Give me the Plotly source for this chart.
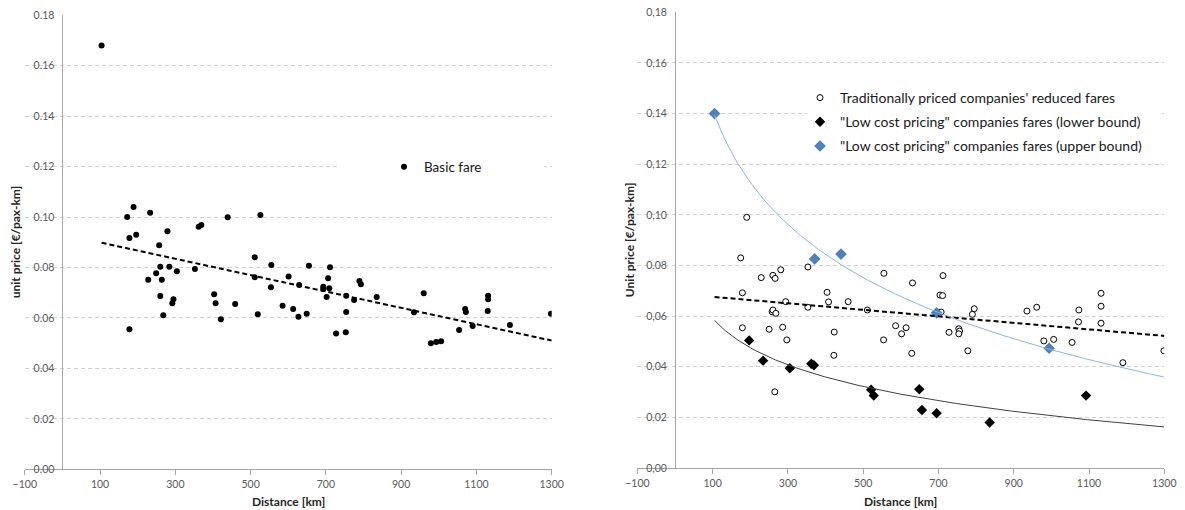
import numpy as np
import plotly.graph_objects as go

# ---------------- data ----------------
# Left chart: basic fares
basic_x = [104, 172, 189, 233, 178, 196, 257, 279, 362, 369, 439, 526, 511,
           178, 228, 249, 260, 264, 260, 268, 284, 292, 295, 304, 352, 403, 407, 421,
           459, 511, 519, 555, 554, 585, 601, 613, 627, 629,
           655, 711, 649, 693, 693, 706, 709, 702, 727, 753, 754, 754, 775, 789, 793,
           835, 934, 960, 979, 993, 1006, 1054, 1070, 1072, 1090, 1131, 1131, 1130,
           1189, 1298]
basic_y = [0.168, 0.100, 0.104, 0.1017, 0.0917, 0.093, 0.0888, 0.0944, 0.0962, 0.0969, 0.0999, 0.1008, 0.0841,
           0.0555, 0.0752, 0.0777, 0.0803, 0.0752, 0.0687, 0.0611, 0.0803, 0.0658, 0.0674, 0.0785, 0.0794, 0.0694, 0.0658, 0.0595,
           0.0655, 0.0761, 0.0615, 0.0810, 0.0722, 0.0648, 0.0764, 0.0636, 0.0605, 0.0731,
           0.0807, 0.0801, 0.0617, 0.0724, 0.0715, 0.0757, 0.0718, 0.0683, 0.0538, 0.0543, 0.0688, 0.0624, 0.0671, 0.0747, 0.0734,
           0.0683, 0.0623, 0.0698, 0.0500, 0.0505, 0.0508, 0.0552, 0.0636, 0.0624, 0.0568, 0.0688, 0.0674, 0.0628,
           0.0572, 0.0617]

# Right chart
trad_x = [190.5, 174.5, 179, 179, 229, 250, 260, 266, 258, 260, 268, 265, 281, 286, 294, 297,
          353, 353, 404, 408, 423, 422, 460, 511, 555, 554, 586, 614, 602, 631, 629,
          704, 711, 712, 707, 728, 754, 756, 754, 778, 790, 795, 935, 961, 980, 1006,
          1055, 1073, 1072, 1132, 1132, 1132, 1190, 1299]
trad_y = [0.099, 0.083, 0.0692, 0.0554, 0.0752, 0.0548, 0.0761, 0.0749, 0.0617, 0.0624, 0.0611, 0.0301, 0.0783, 0.0556, 0.0657, 0.0506,
          0.0794, 0.0635, 0.0694, 0.0656, 0.0537, 0.0445, 0.0657, 0.0624, 0.0769, 0.0506, 0.0562, 0.0554, 0.053, 0.0731, 0.0453,
          0.0683, 0.0681, 0.076, 0.0616, 0.0536, 0.055, 0.0541, 0.053, 0.0463, 0.0607, 0.0629, 0.062, 0.0635, 0.0502, 0.0508,
          0.0496, 0.0624, 0.0577, 0.069, 0.0639, 0.0572, 0.0416, 0.0463]

low_x = [197, 234, 305, 362, 369, 521, 528, 649, 656, 695, 836, 1092]
low_y = [0.0504, 0.0424, 0.0394, 0.0412, 0.0406, 0.0309, 0.0286, 0.0311, 0.0229, 0.0216, 0.018, 0.0286]

up_x = [105, 371, 441, 695, 994]
up_y = [0.140, 0.0826, 0.0845, 0.0613, 0.0473]

# trendline x-span (forecast to axis end)
left_trend_span = [104, 1300]
right_trend_span = [105, 1300]

x_ticks = [-100, 100, 300, 500, 700, 900, 1100, 1300]
y_ticks = [0.00, 0.02, 0.04, 0.06, 0.08, 0.10, 0.12, 0.14, 0.16, 0.18]
left_y_labels = ["0.00", "0.02", "0.04", "0.06", "0.08", "0.10", "0.12", "0.14", "0.16", "0.18"]
right_y_labels = ["0,00", "0,02", "0,04", "0,06", "0,08", "0,10", "0,12", "0,14", "0,16", "0,18"]

legend_left = "Basic fare"
legend_trad = "Traditionally priced companies' reduced fares"
legend_low = "\"Low cost pricing\" companies fares (lower bound)"
legend_up = "\"Low cost pricing\" companies fares (upper bound)"

# ---------------- trendlines (least squares like Excel) ----------------
def linear_fit(x, y, span):
    m, c = np.polyfit(np.asarray(x, float), np.asarray(y, float), 1)
    xs = np.linspace(span[0], span[1], 120)
    return xs, m * xs + c

def log_fit(x, y, span):
    m, c = np.polyfit(np.log(np.asarray(x, float)), np.asarray(y, float), 1)
    xs = np.linspace(span[0], span[1], 200)
    return xs, m * np.log(xs) + c

W, H = 1185, 510
FONT = "Lato"
AX = "#a6a6a6"
GRID = "#d0d0d0"
TICKC = "#595959"

def px_x(p):
    return p / W

def px_y(p):
    return (H - p) / H

# plot-area pixel bounds
L_x0, L_x1, L_ytop, L_ybot = 24.8, 551.7, 15.3, 469.3
R_x0, R_x1, R_ytop, R_ybot = 637.4, 1164.3, 12.3, 468.0

fig = go.Figure()

# left
fig.add_trace(go.Scatter(x=basic_x, y=basic_y, mode="markers", name=legend_left,
                         marker=dict(symbol="circle", size=6, color="black"),
                         xaxis="x", yaxis="y", legend="legend"))
tx, ty = linear_fit(basic_x, basic_y, left_trend_span)
fig.add_trace(go.Scatter(x=tx, y=ty, mode="lines", showlegend=False,
                         line=dict(color="black", width=2, dash="5px,3px"),
                         xaxis="x", yaxis="y", hoverinfo="skip"))

# right
fig.add_trace(go.Scatter(x=trad_x, y=trad_y, mode="markers", name=legend_trad,
                         marker=dict(symbol="circle", size=6, color="white",
                                     line=dict(color="black", width=1)),
                         xaxis="x2", yaxis="y2", legend="legend2", legendgroup="a"))
fig.add_trace(go.Scatter(x=low_x, y=low_y, mode="markers", name=legend_low,
                         marker=dict(symbol="diamond", size=8, color="black"),
                         xaxis="x2", yaxis="y2", legend="legend2", legendgroup="b"))
fig.add_trace(go.Scatter(x=up_x, y=up_y, mode="markers", name=legend_up,
                         marker=dict(symbol="diamond", size=9, color="#4F81BD"),
                         xaxis="x2", yaxis="y2", legend="legend2", legendgroup="c"))
tx, ty = linear_fit(trad_x, trad_y, right_trend_span)
fig.add_trace(go.Scatter(x=tx, y=ty, mode="lines", showlegend=False,
                         line=dict(color="black", width=2, dash="5px,3px"),
                         xaxis="x2", yaxis="y2", hoverinfo="skip"))
tx, ty = log_fit(low_x, low_y, right_trend_span)
fig.add_trace(go.Scatter(x=tx, y=ty, mode="lines", showlegend=False,
                         line=dict(color="#404040", width=1),
                         xaxis="x2", yaxis="y2", hoverinfo="skip"))
tx, ty = log_fit(up_x, up_y, right_trend_span)
fig.add_trace(go.Scatter(x=tx, y=ty, mode="lines", showlegend=False,
                         line=dict(color="#8DB4E2", width=1),
                         xaxis="x2", yaxis="y2", hoverinfo="skip"))

def xaxis_cfg(x0, x1, anchor):
    return dict(domain=[px_x(x0), px_x(x1)], range=[-100, 1300], anchor=anchor,
                tickvals=x_ticks, showgrid=False, zeroline=False,
                showline=True, linecolor=AX, linewidth=1,
                ticks="outside", ticklen=5, tickcolor=AX, tickwidth=1,
                tickfont=dict(family=FONT, size=10.5, color=TICKC),
                automargin=False, fixedrange=True)

def yaxis_cfg(x0, x1, ytop, ybot, labels):
    pos = px_x(x0 + (x1 - x0) * (100 / 1400))
    return dict(domain=[px_y(ybot), px_y(ytop)], range=[0, 0.18], anchor="free",
                position=pos, tickvals=y_ticks, ticktext=labels,
                showgrid=True, gridcolor=GRID, griddash="4px,3px", gridwidth=1,
                zeroline=False, showline=True, linecolor=AX, linewidth=1,
                ticks="", ticklabelstandoff=6,
                tickfont=dict(family=FONT, size=10.5, color=TICKC),
                automargin=False, fixedrange=True)

fig.update_layout(
    width=W, height=H,
    margin=dict(l=0, r=0, t=0, b=0, pad=0),
    paper_bgcolor="white", plot_bgcolor="white",
    font=dict(family=FONT, color="#262626"),
    xaxis=xaxis_cfg(L_x0, L_x1, "y"),
    yaxis=yaxis_cfg(L_x0, L_x1, L_ytop, L_ybot, left_y_labels),
    xaxis2=xaxis_cfg(R_x0, R_x1, "y2"),
    yaxis2=yaxis_cfg(R_x0, R_x1, R_ytop, R_ybot, right_y_labels),
    legend=dict(x=px_x(384), y=px_y(167), xanchor="left", yanchor="middle",
                bgcolor="rgba(0,0,0,0)", borderwidth=0,
                font=dict(family=FONT, size=13.5, color="#1a1a1a"),
                itemwidth=30),
    legend2=dict(x=px_x(800), y=px_y(122), xanchor="left", yanchor="middle",
                 bgcolor="rgba(0,0,0,0)", borderwidth=0, tracegroupgap=3,
                 font=dict(family=FONT, size=14, color="#1a1a1a"),
                 itemwidth=30),
    showlegend=True,
)

# white legend boxes hiding gridlines (drawn between grid and traces)
fig.add_shape(type="rect", xref="x", yref="y", x0=735, x1=1280, y0=0.11, y1=0.13,
              fillcolor="white", line=dict(width=0), layer="between")
fig.add_shape(type="rect", xref="x2", yref="y2", x0=351, x1=1289, y0=0.13, y1=0.152,
              fillcolor="white", line=dict(width=0), layer="between")

# axis titles
title_font = dict(family=FONT, size=12, color="#262626")
fig.add_annotation(text="<b>Distance [km]</b>", xref="paper", yref="paper",
                   x=px_x((L_x0 + L_x1) / 2), y=px_y(501), showarrow=False,
                   xanchor="center", yanchor="middle", font=title_font)
fig.add_annotation(text="<b>Distance [km]</b>", xref="paper", yref="paper",
                   x=px_x((R_x0 + R_x1) / 2), y=px_y(501), showarrow=False,
                   xanchor="center", yanchor="middle", font=title_font)
fig.add_annotation(text="<b>unit price [€/pax-km]</b>", xref="paper", yref="paper",
                   x=px_x(15), y=px_y((L_ytop + L_ybot) / 2), showarrow=False,
                   textangle=-90, xanchor="center", yanchor="middle", font=title_font)
fig.add_annotation(text="<b>Unit price [€/pax-km]</b>", xref="paper", yref="paper",
                   x=px_x(629), y=px_y((R_ytop + R_ybot) / 2), showarrow=False,
                   textangle=-90, xanchor="center", yanchor="middle", font=title_font)

fig.write_html("out.html")
